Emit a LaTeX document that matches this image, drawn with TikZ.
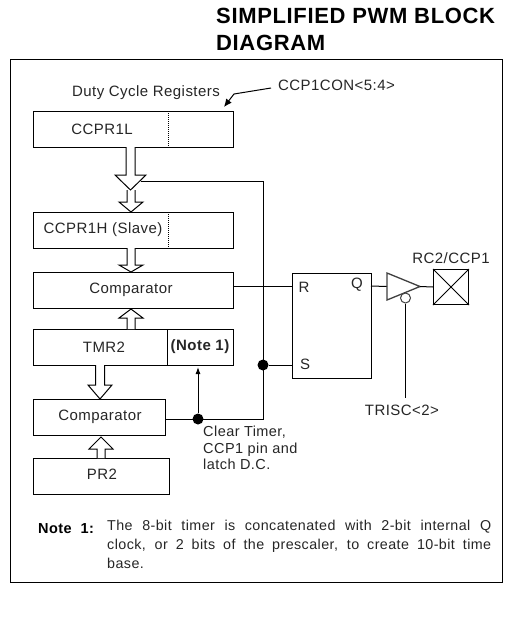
\documentclass[tikz,border=0pt]{standalone}
\usepackage{fontspec}
\setmainfont[LetterSpace=3]{Liberation Sans}
\usetikzlibrary{calc,arrows.meta}
\tikzset{
  line/.style={draw=black,line width=1pt},
  regbox/.style={line,minimum height=36pt,inner sep=0pt,anchor=north west},
  lbl/.style={inner sep=0pt,font=\fontsize{15}{18}\selectfont,text=black!85},
  dot/.style={circle,fill=black,inner sep=0pt,minimum size=11pt},
  blockarrow/.style={line,fill=white,line join=miter},
}
% from, to, half shaft, half head, head length
\newcommand\blockarr[5]{%
  \draw[blockarrow] ($(#1)+(-#3,0)$) -- ($(#2)!#5pt!(#1)+(-#3,0)$) -- ($(#2)!#5pt!(#1)+(-#4,0)$)
    -- (#2) -- ($(#2)!#5pt!(#1)+(#4,0)$) -- ($(#2)!#5pt!(#1)+(#3,0)$) -- ($(#1)+(#3,0)$);}
\begin{document}
\begin{tikzpicture}[x=1pt,y=-1pt]
\useasboundingbox (0,0) rectangle (524,627);
\fill[white] (0,0) rectangle (524,627);
\node[anchor=west,inner sep=0pt,font=\bfseries\fontsize{22}{26}\selectfont] (t1) at (216,16) {SIMPLIFIED PWM BLOCK};
\node[anchor=west,inner sep=0pt,font=\bfseries\fontsize{22}{26}\selectfont] (t2) at (216,43) {DIAGRAM};
\node[line,anchor=north west,minimum width=492pt,minimum height=523pt,inner sep=0pt] (frame) at (10,59) {};
% registers
\node[regbox,minimum width=200pt] (l) at (33,111) {};
\node[regbox,minimum width=200pt] (h) at (33,212) {};
\node[regbox,minimum width=200pt] (c1) at (33,272) {};
\node[regbox,minimum width=200pt] (tmr) at (33,329) {};
\node[regbox,minimum width=132pt] (c2) at (33,399) {};
\node[regbox,minimum width=136pt] (pr) at (33,458) {};
\draw[line,densely dotted] (168,111) -- (168,147);
\draw[line,densely dotted] (168,212) -- (168,248);
\draw[line] (167,329) -- (167,365);
\node[lbl] (tl) at (102,129.5) {CCPR1L};
\node[lbl] (th) at (103,229.5) {CCPR1H (Slave)};
\node[lbl] (tc1) at (131,289.5) {Comparator};
\node[lbl] (ttmr) at (104,347) {TMR2};
\node[lbl] (tn) at (200,347) {\bfseries\fontsize{15}{17}\selectfont (Note 1)};
\node[lbl] (tc2) at (100,416.5) {Comparator};
\node[lbl] (tpr) at (102,474) {PR2};
\node[lbl] (tduty) at (146,93) {Duty Cycle Registers};
\node[lbl,anchor=west] (tcon) at (278,85) {CCP1CON<5:4>};
\coordinate (cons) at (271,88);
\coordinate (conb) at (234,94);
\coordinate (cont) at (224,107);
\draw[line,-{Latex[length=8pt,width=7pt]}] (cons) -- (conb) -- (cont);
% wires
\coordinate (j0) at (141,181);
\coordinate (j1) at (263,181);
\coordinate (j2) at (263,419);
\node[dot] (d1) at (263,365) {};
\node[dot] (d2) at (198,419) {};
\node[line,anchor=north west,minimum width=79pt,minimum height=105pt,inner sep=0pt] (ff) at (292,273) {};
\coordinate (ffr) at (292,286);
\coordinate (ffs) at (292,365);
\coordinate (ffq) at (371,286);
\coordinate (c1r) at (233,286);
\coordinate (c2r) at (165,419);
\coordinate (nt) at (198,367);
\draw[line] (j0) -- (j1) -- (j2) -- (c2r);
\draw[line] (c1r) -- (ffr);
\draw[line] (d1) -- (ffs);
\draw[line,-{Latex[length=7pt,width=5pt]}] (d2) -- (nt);
% block arrows
\coordinate (a1) at (130.5,147); \coordinate (a1t) at (130.5,190);
\coordinate (a2) at (131,190);   \coordinate (a2t) at (131,212);
\coordinate (a3) at (131,248);   \coordinate (a3t) at (131,272);
\coordinate (a4) at (131,329);   \coordinate (a4t) at (131,309);
\coordinate (a5) at (100,365);   \coordinate (a5t) at (100,399);
\coordinate (a6) at (101,458);   \coordinate (a6t) at (101,437);
\blockarr{a2}{a2t}{4}{12}{10}
\blockarr{a1}{a1t}{4.5}{15.5}{15}
\blockarr{a3}{a3t}{4}{12}{7}
\blockarr{a4}{a4t}{4}{12}{9}
\blockarr{a5}{a5t}{4.5}{12}{14}
\blockarr{a6}{a6t}{4}{12}{12}
% FF labels
\node[lbl] (tr) at (304,287) {R};
\node[lbl] (ts) at (305,364) {S};
\node[lbl] (tq) at (357,285) {Q};
% buffer
\coordinate (ba) at (387,273); \coordinate (bb) at (387,300); \coordinate (bt) at (420,286.5);
\coordinate (bin) at (387,286.5);
\draw[line] (ffq) -- (bin);
\draw[line,draw=black!75,line width=1.3pt,line join=miter] (ba) -- (bt) -- (bb) -- cycle;
\node[line,draw=black!75,circle,fill=white,minimum size=10pt,inner sep=0pt] (bub) at (405.5,298) {};
\node[lbl] (ttris) at (402,410) {TRISC<2>};
\draw[line] (bub) -- (405.5,398) coordinate (tb);
\node[line,anchor=north west,minimum width=35pt,minimum height=35pt,inner sep=0pt] (pin) at (433,269) {};
\draw[line] (bt) -- (pin.west);
\draw[line] (pin.north west) -- (pin.south east);
\draw[line] (pin.north east) -- (pin.south west);
\node[lbl] (trc) at (451,258) {RC2/CCP1};
% note text
\node[lbl,anchor=north west,align=left,font=\fontsize{14.5}{16.5}\selectfont] (tclear) at (203,426) {Clear Timer,\\CCP1 pin and\\latch D.C.};
\node[anchor=west,inner sep=0pt,font=\bfseries\fontsize{14.5}{17}\selectfont] (tnote) at (38,529) {Note\ \ 1:};
\node[anchor=north west,inner sep=0pt,text width=384pt,align=justify,font=\fontsize{14.3}{19}\selectfont,text=black!85] (tbody) at (107,520) {The 8-bit timer is concatenated with 2-bit internal Q\linebreak clock, or 2 bits of the prescaler, to create 10-bit time\linebreak base.};
\end{tikzpicture}
\end{document}
